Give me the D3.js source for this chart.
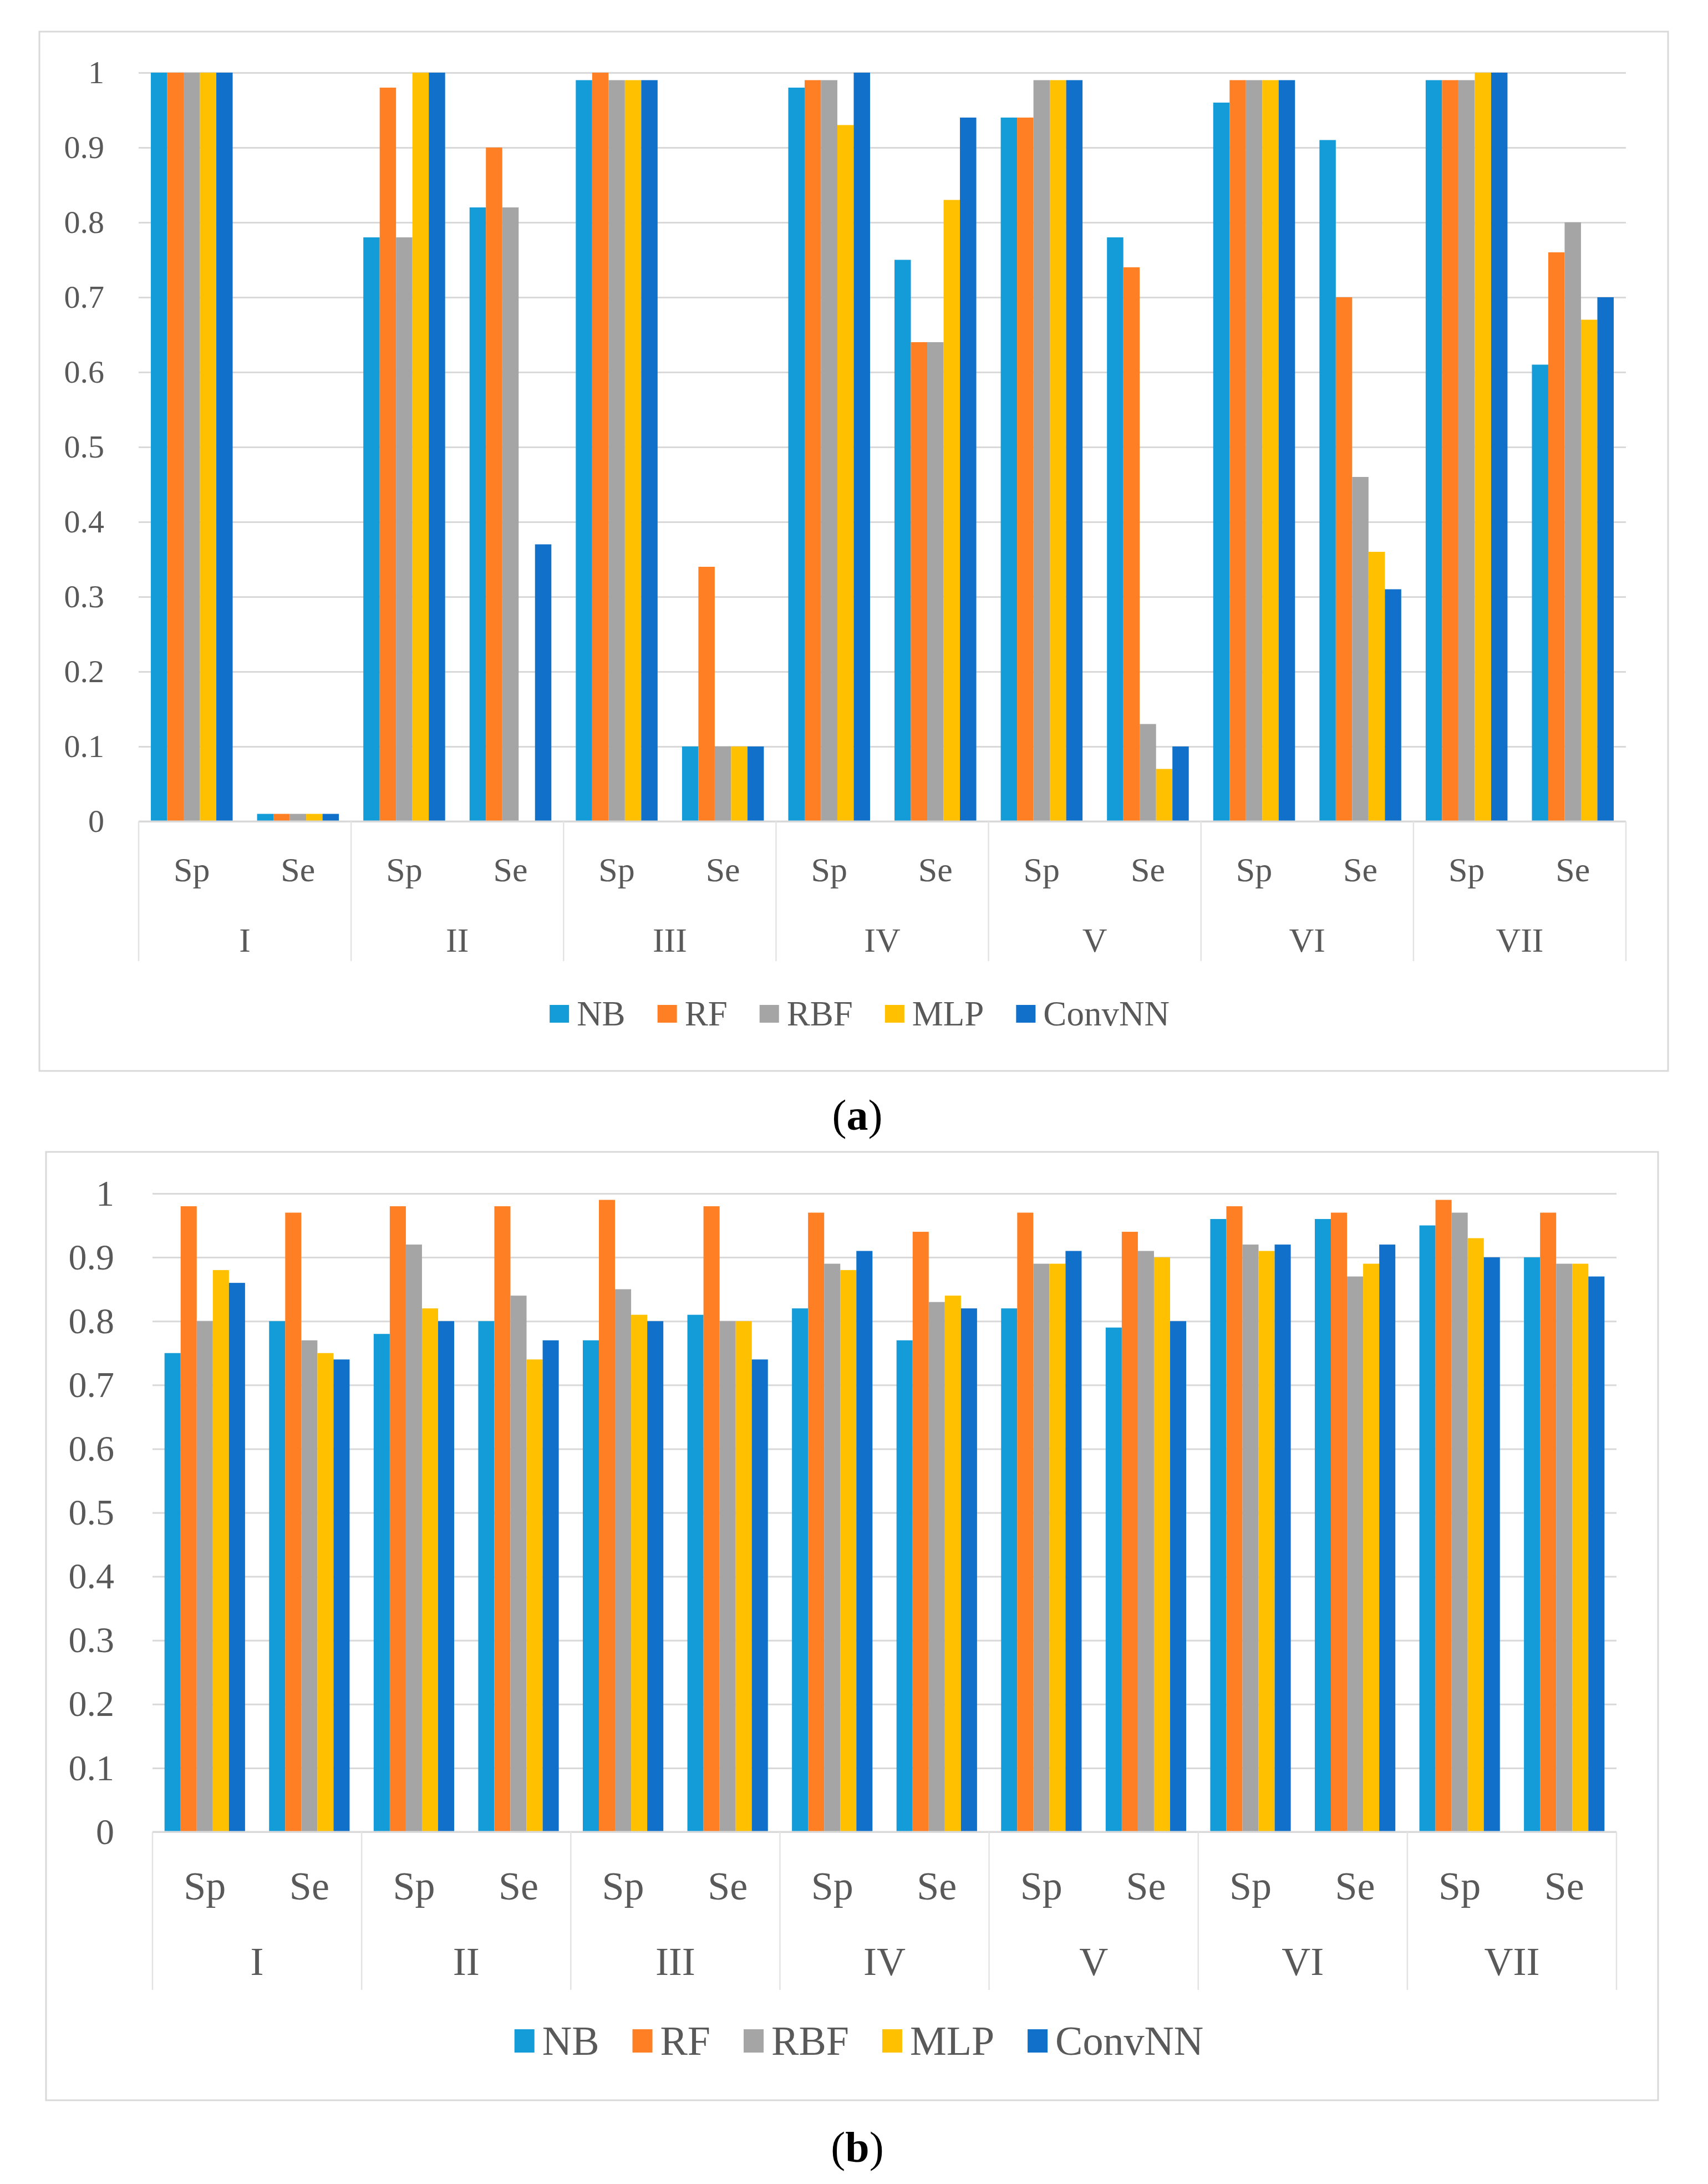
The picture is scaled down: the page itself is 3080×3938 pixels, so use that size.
<!DOCTYPE html>
<html>
<head>
<meta charset="utf-8">
<script src="https://cdn.jsdelivr.net/npm/d3@7"></script>
<style>
  body { margin: 0; background: #fff; }
  text { font-family: "Liberation Serif", "Times New Roman", serif; }
</style>
</head>
<body>
<script>
// categories
const groups = ["I", "II", "III", "IV", "V", "VI", "VII"];
const measures = ["Sp", "Se"];
const series = ["NB", "RF", "RBF", "MLP", "ConvNN"];
const colors = ["#149cd8", "#ff7f24", "#a5a5a5", "#ffc000", "#1170c9"];
const yTicks = [0, 0.1, 0.2, 0.3, 0.4, 0.5, 0.6, 0.7, 0.8, 0.9, 1];

// panel (a) values, order: I Sp, I Se, II Sp, II Se, ...
const aNB     = [1, 0.01, 0.78, 0.82, 0.99, 0.10, 0.98, 0.75, 0.94, 0.78, 0.96, 0.91, 0.99, 0.61];
const aRF     = [1, 0.01, 0.98, 0.90, 1.00, 0.34, 0.99, 0.64, 0.94, 0.74, 0.99, 0.70, 0.99, 0.76];
const aRBF    = [1, 0.01, 0.78, 0.82, 0.99, 0.10, 0.99, 0.64, 0.99, 0.13, 0.99, 0.46, 0.99, 0.80];
const aMLP    = [1, 0.01, 1.00, 0.00, 0.99, 0.10, 0.93, 0.83, 0.99, 0.07, 0.99, 0.36, 1.00, 0.67];
const aConvNN = [1, 0.01, 1.00, 0.37, 0.99, 0.10, 1.00, 0.94, 0.99, 0.10, 0.99, 0.31, 1.00, 0.70];

// panel (b) values
const bNB     = [0.75, 0.80, 0.78, 0.80, 0.77, 0.81, 0.82, 0.77, 0.82, 0.79, 0.96, 0.96, 0.95, 0.90];
const bRF     = [0.98, 0.97, 0.98, 0.98, 0.99, 0.98, 0.97, 0.94, 0.97, 0.94, 0.98, 0.97, 0.99, 0.97];
const bRBF    = [0.80, 0.77, 0.92, 0.84, 0.85, 0.80, 0.89, 0.83, 0.89, 0.91, 0.92, 0.87, 0.97, 0.89];
const bMLP    = [0.88, 0.75, 0.82, 0.74, 0.81, 0.80, 0.88, 0.84, 0.89, 0.90, 0.91, 0.89, 0.93, 0.89];
const bConvNN = [0.86, 0.74, 0.80, 0.77, 0.80, 0.74, 0.91, 0.82, 0.91, 0.80, 0.92, 0.92, 0.90, 0.87];

const svg = d3.select("body").append("svg")
    .attr("width", 3080)
    .attr("height", 3938);

svg.append("rect").attr("width", 3080).attr("height", 3938).attr("fill", "#fff");

function drawPanel(p) {
    const keys = [];
    groups.forEach(g => measures.forEach(m => keys.push(g + "|" + m)));

    const rows = keys.map((k, i) => ({
        key: k,
        vals: p.values.map((arr, s) => ({ name: series[s], v: arr[i], s: s }))
    }));

    // frame
    svg.append("rect")
        .attr("x", p.box[0]).attr("y", p.box[1])
        .attr("width", p.box[2] - p.box[0]).attr("height", p.box[3] - p.box[1])
        .attr("fill", "none").attr("stroke", "#d9d9d9").attr("stroke-width", 3);

    const g = svg.append("g").attr("transform", `translate(${p.left}, ${p.top})`);
    const w = p.right - p.left;
    const h = p.bottom - p.top;

    const y = d3.scaleLinear().domain([0, 1]).range([h, 0]);
    const x0 = d3.scaleBand().domain(keys).range([0, w]);
    const xg = d3.scaleBand().domain(groups).range([0, w]);
    const gap = x0.bandwidth() * 0.115;
    const x1 = d3.scaleBand().domain(series).range([gap, x0.bandwidth() - gap]);

    // gridlines + labels
    const yAxis = d3.axisLeft(y)
        .tickValues(yTicks)
        .tickSize(-w)
        .tickPadding(p.tickPad)
        .tickFormat(d => String(+d.toFixed(1)));
    const ya = g.append("g").call(yAxis);
    ya.select(".domain").remove();
    ya.selectAll("line").attr("stroke", "#d9d9d9").attr("stroke-width", 3);
    ya.selectAll("text")
        .attr("fill", "#595959")
        .style("font-size", p.yFont + "px");

    // bars
    const col = g.selectAll("g.col")
        .data(rows)
        .enter()
            .append("g")
            .attr("class", "col")
            .attr("transform", d => `translate(${x0(d.key)}, 0)`);

    col.selectAll("rect")
        .data(d => d.vals)
        .enter()
            .append("rect")
            .attr("x", d => x1(d.name))
            .attr("width", x1.bandwidth())
            .attr("y", d => y(d.v))
            .attr("height", d => h - y(d.v))
            .attr("fill", d => colors[d.s]);

    // axis line
    g.append("line")
        .attr("x1", 0).attr("x2", w)
        .attr("y1", h).attr("y2", h)
        .attr("stroke", "#d9d9d9").attr("stroke-width", 3);

    // group separators
    const seps = groups.map(d => xg(d)).concat([w]);
    g.selectAll("line.sep")
        .data(seps)
        .enter()
            .append("line")
            .attr("class", "sep")
            .attr("x1", d => d).attr("x2", d => d)
            .attr("y1", h).attr("y2", h + p.sepLen)
            .attr("stroke", "#e3e3e3").attr("stroke-width", 2.5);

    // Sp / Se labels
    g.selectAll("text.sub")
        .data(keys)
        .enter()
            .append("text")
            .attr("class", "sub")
            .attr("x", d => x0(d) + x0.bandwidth() / 2)
            .attr("y", h + p.subY)
            .attr("text-anchor", "middle")
            .attr("dominant-baseline", "central")
            .attr("fill", "#595959")
            .style("font-size", p.labFont + "px")
            .text(d => d.split("|")[1]);

    // group labels
    g.selectAll("text.grp")
        .data(groups)
        .enter()
            .append("text")
            .attr("class", "grp")
            .attr("x", d => xg(d) + xg.bandwidth() / 2)
            .attr("y", h + p.grpY)
            .attr("text-anchor", "middle")
            .attr("dominant-baseline", "central")
            .attr("fill", "#595959")
            .style("font-size", p.labFont + "px")
            .text(d => d);

    // legend
    const leg = svg.append("g");
    let cx = 0;
    series.forEach((s, i) => {
        leg.append("rect")
            .attr("x", cx).attr("y", -p.sw[1] / 2)
            .attr("width", p.sw[0]).attr("height", p.sw[1])
            .attr("fill", colors[i]);
        const t = leg.append("text")
            .attr("x", cx + p.sw[0] + 14)
            .attr("y", 0)
            .attr("dominant-baseline", "central")
            .attr("fill", "#595959")
            .style("font-size", p.legFont + "px")
            .text(s);
        cx += p.sw[0] + 14 + t.node().getComputedTextLength() + p.legGap;
    });
    cx -= p.legGap;
    leg.attr("transform", `translate(${p.legCx - cx / 2}, ${p.legY})`);

    // panel caption
    const cap = svg.append("text")
        .attr("x", 1546)
        .attr("y", p.capY)
        .attr("text-anchor", "middle")
        .attr("dominant-baseline", "central")
        .attr("fill", "#000")
        .style("font-size", "78px");
    cap.append("tspan").text("(");
    cap.append("tspan").attr("font-weight", "bold").text(p.cap);
    cap.append("tspan").text(")");
}

drawPanel({
    values: [aNB, aRF, aRBF, aMLP, aConvNN],
    box: [71, 57, 3008, 1931],
    left: 250, right: 2932, top: 131, bottom: 1481,
    tickPad: 62, yFont: 58,
    labFont: 62, subY: 87, grpY: 214, sepLen: 252,
    legFont: 63, legGap: 58, sw: [35, 32], legCx: 1550, legY: 1828,
    cap: "a", capY: 2010
});

drawPanel({
    values: [bNB, bRF, bRBF, bMLP, bConvNN],
    box: [83, 2077, 2990, 3787],
    left: 275, right: 2915, top: 2152, bottom: 3303,
    tickPad: 69, yFont: 66,
    labFont: 72, subY: 98, grpY: 234, sepLen: 285,
    legFont: 74, legGap: 60, sw: [36, 42], legCx: 1549, legY: 3680,
    cap: "b", capY: 3871
});
</script>
</body>
</html>
